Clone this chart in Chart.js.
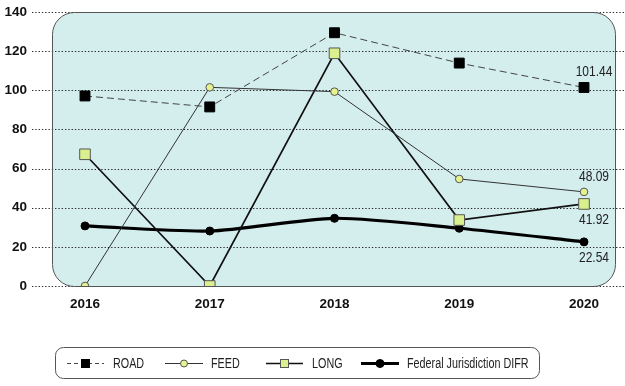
<!DOCTYPE html>
<html>
<head>
<meta charset="utf-8">
<script src="https://cdn.jsdelivr.net/npm/chart.js@4/dist/chart.umd.min.js"></script>
<style>
  html, body { margin: 0; padding: 0; background: #fff; }
  #wrap { width: 625px; height: 386px; }
</style>
</head>
<body>
<div id="wrap"><canvas id="grafico"></canvas></div>
<script>
// datos
const anios = ["2016", "2017", "2018", "2019", "2020"];
const road = [97.1, 91.5, 129.4, 113.9, 101.44];
const feed = [0, 101.5, 99.3, 54.7, 48.09];
const long = [67.3, 0, 118.9, 33.7, 41.92];
const difr = [30.7, 28.1, 34.6, 29.5, 22.54];
const yTicks = [0, 20, 40, 60, 80, 100, 120, 140];

const fuente = "'Liberation Sans', Arial, sans-serif";

// texto estrecho (simula Arial Narrow)
function textoEstrecho(ctx, txt, x, y, align, base, k) {
    ctx.save();
    ctx.translate(x, y);
    ctx.scale(k, 1);
    ctx.textAlign = align;
    ctx.textBaseline = base;
    ctx.fillText(txt, 0, 0);
    ctx.restore();
}

// fondo redondeado + líneas punteadas
const fondo = {
    id: "fondo",
    beforeDatasetsDraw(chart) {
        const { ctx } = chart;
        const y = chart.scales.y;
        const top = y.getPixelForValue(140), bottom = y.getPixelForValue(0);
        const left = 52, right = 615, r = 22;
        ctx.save();
        ctx.beginPath();
        ctx.roundRect(left + 0.5, top + 0.5, right - left, bottom - top, r);
        ctx.fillStyle = "#d4eeee";
        ctx.fill();
        ctx.setLineDash([1.3, 2]);
        ctx.strokeStyle = "#222";
        ctx.lineWidth = 1.2;
        yTicks.forEach(v => {
            const py = Math.round(y.getPixelForValue(v)) + 0.5;
            ctx.beginPath();
            ctx.moveTo(32, py);
            ctx.lineTo(625, py);
            ctx.stroke();
        });
        ctx.setLineDash([]);
        ctx.beginPath();
        ctx.roundRect(left + 0.5, top + 0.5, right - left, bottom - top, r);
        ctx.lineWidth = 1;
        ctx.strokeStyle = "#555";
        ctx.stroke();
        ctx.restore();
    }
};

// etiquetas de 2020
const etiquetas = {
    id: "etiquetas",
    afterDatasetsDraw(chart) {
        const { ctx } = chart;
        ctx.save();
        ctx.font = "15px " + fuente;
        ctx.fillStyle = "#222";
        const pos = [["above", 0], ["above", 1], ["below", 2], ["below", 3]];
        pos.forEach(([lado, i]) => {
            const p = chart.getDatasetMeta(i).data[4];
            const v = chart.data.datasets[i].data[4];
            if (lado === "above") textoEstrecho(ctx, v.toFixed(2), p.x + 10, p.y - 8, "center", "bottom", 0.8);
            else textoEstrecho(ctx, v.toFixed(2), p.x + 10, p.y + 8, "center", "top", 0.8);
        });
        ctx.restore();
    }
};

// leyenda dibujada a mano
const leyenda = {
    id: "leyenda",
    afterDraw(chart) {
        const { ctx } = chart;
        ctx.save();
        ctx.beginPath();
        ctx.roundRect(55.5, 347.5, 484, 31, 8);
        ctx.strokeStyle = "#555";
        ctx.lineWidth = 1;
        ctx.stroke();
        const xs = [67, 165, 266, 361];
        const anchos = [37, 38, 37, 38];
        const tx = [113, 211, 312, 407];
        const dashes = [[4, 3], [], [], []];
        const tam = [8, 3.5, 8, 4];
        const cy = 363.5;
        chart.data.datasets.forEach((ds, i) => {
            const x0 = xs[i], x1 = xs[i] + anchos[i];
            ctx.beginPath();
            ctx.setLineDash(dashes[i]);
            ctx.strokeStyle = ds.borderColor;
            ctx.lineWidth = ds.borderWidth;
            ctx.moveTo(x0, cy);
            ctx.lineTo(x1, cy);
            ctx.stroke();
            ctx.setLineDash([]);
            const cx = (x0 + x1) / 2;
            ctx.fillStyle = ds.pointBackgroundColor;
            ctx.strokeStyle = ds.pointBorderColor;
            ctx.lineWidth = 1;
            if (ds.pointStyle === "rect") {
                const s = tam[i];
                ctx.fillRect(cx - s / 2, cy - s / 2, s, s);
                ctx.strokeRect(cx - s / 2, cy - s / 2, s, s);
            } else {
                ctx.beginPath();
                ctx.arc(cx, cy, tam[i], 0, Math.PI * 2);
                ctx.fill();
                ctx.stroke();
            }
            ctx.fillStyle = "#222";
            ctx.font = "14px " + fuente;
            textoEstrecho(ctx, ds.label, tx[i], cy + 1, "left", "middle", 0.77);
        });
        ctx.restore();
    }
};

const ctx = document.getElementById("grafico").getContext("2d");
new Chart(ctx, {
    type: "line",
    data: {
        labels: anios,
        datasets: [
            { label: "ROAD", data: road, borderColor: "#444", borderWidth: 1, borderDash: [7, 4],
              pointStyle: "rect", pointRadius: 7, pointBackgroundColor: "#000", pointBorderColor: "#000", pointBorderWidth: 1 },
            { label: "FEED", data: feed, borderColor: "#333", borderWidth: 1,
              pointStyle: "circle", pointRadius: 3.8, pointBackgroundColor: "#e4f390", pointBorderColor: "#555", pointBorderWidth: 1 },
            { label: "LONG", data: long, borderColor: "#111", borderWidth: 1.7,
              pointStyle: "rect", pointRadius: 7.5, pointBackgroundColor: "#daf08e", pointBorderColor: "#555", pointBorderWidth: 1 },
            { label: "Federal Jurisdiction DIFR", data: difr, borderColor: "#000", borderWidth: 3.2, tension: 0.25,
              pointStyle: "circle", pointRadius: 4, pointBackgroundColor: "#000", pointBorderColor: "#000", pointBorderWidth: 1 }
        ]
    },
    options: {
        responsive: true,
        maintainAspectRatio: false,
        animation: false,
        layout: { padding: { left: 0, right: 41, top: 12, bottom: 70 } },
        plugins: {
            legend: { display: false },
            tooltip: { enabled: false }
        },
        scales: {
            x: {
                offset: false,
                grid: { display: false, drawTicks: false },
                border: { display: false },
                afterFit: s => { s.height = 30; },
                ticks: { color: "#111", padding: 10, font: { family: fuente, size: 13.5, weight: "bold" }, maxRotation: 0 }
            },
            y: {
                min: 0, max: 140,
                grid: { display: false, drawTicks: false },
                border: { display: false },
                afterFit: s => { s.width = 85; s.paddingTop = 7; s.paddingBottom = 7; },
                afterBuildTicks: s => { s.ticks = yTicks.map(v => ({ value: v })); },
                ticks: { color: "#111", padding: 58, font: { family: fuente, size: 13.5, weight: "bold" } }
            }
        }
    },
    plugins: [fondo, etiquetas, leyenda]
});
</script>
</body>
</html>
